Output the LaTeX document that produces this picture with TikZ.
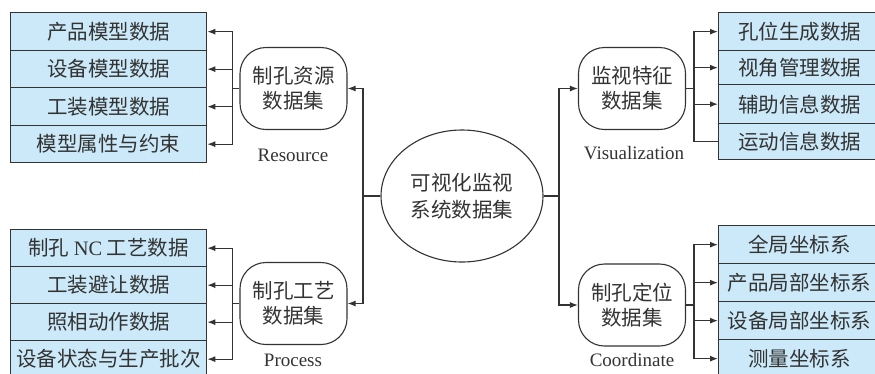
\documentclass[tikz,border=0pt]{standalone}
\usepackage{fontspec}
\setmainfont{Liberation Serif}
\newfontfamily\cjk{Noto Sans CJK SC}
\usetikzlibrary{arrows.meta,shapes.geometric}
\definecolor{boxfill}{HTML}{CBE9F8}
\definecolor{ink}{HTML}{333333}
\begin{document}
\begin{tikzpicture}[x=1pt,y=-1pt,
  cell/.style={draw=ink,fill=boxfill,line width=1.3pt,inner sep=0pt,
    font=\cjk\fontsize{20.5}{24}\selectfont,text=ink,anchor=north west},
  lcell/.style={cell,minimum width=196pt},
  rcell/.style={cell,minimum width=162pt},
  setbox/.style={draw=ink,line width=1.1pt,rounded corners=26pt,minimum width=107pt,
    minimum height=82pt,align=center,text=ink,font=\cjk\fontsize{20.5}{25}\selectfont},
  lab/.style={text=ink,font=\fontsize{19}{22}\selectfont},
  conn/.style={draw=ink,line width=1.2pt},
  arr/.style={conn,-{Latex[length=8pt,width=6pt]}}]
\useasboundingbox (0,0) rectangle (875,373);
\clip (0,0) rectangle (875,373);
% left upper stack
\node[lcell,minimum height=38pt] (a1) at (10,12) {产品模型数据};
\node[lcell,minimum height=37pt] (a2) at (10,50) {设备模型数据};
\node[lcell,minimum height=38pt] (a3) at (10,87) {工装模型数据};
\node[lcell,minimum height=37pt] (a4) at (10,125) {模型属性与约束};
% left lower stack
\node[lcell,minimum height=37pt] (b1) at (10,229) {制孔 {\rmfamily NC} 工艺数据};
\node[lcell,minimum height=37pt] (b2) at (10,266) {工装避让数据};
\node[lcell,minimum height=37pt] (b3) at (10,303) {照相动作数据};
\node[lcell,minimum height=37pt] (b4) at (10,340) {设备状态与生产批次};
% right upper stack
\node[rcell,minimum height=38pt] (c1) at (718,12) {孔位生成数据};
\node[rcell,minimum height=34pt] (c2) at (718,50) {视角管理数据};
\node[rcell,minimum height=39pt] (c3) at (718,84) {辅助信息数据};
\node[rcell,minimum height=36pt] (c4) at (718,123) {运动信息数据};
% right lower stack
\node[rcell,minimum height=38pt] (d1) at (718,225) {全局坐标系};
\node[rcell,minimum height=38pt] (d2) at (718,263) {产品局部坐标系};
\node[rcell,minimum height=38pt] (d3) at (718,301) {设备局部坐标系};
\node[rcell,minimum height=38pt] (d4) at (718,339) {测量坐标系};
% set boxes
\node[setbox] (res) at (293.5,88.5) {制孔资源\\数据集};
\node[setbox] (proc) at (293.5,303.5) {制孔工艺\\数据集};
\node[setbox] (vis) at (632,88.5) {监视特征\\数据集};
\node[setbox] (coord) at (632,305) {制孔定位\\数据集};
\node[lab] (lres) at (293,155) {Resource};
\node[lab] (lproc) at (293,360) {Process};
\node[lab] (lvis) at (634,153) {Visualization};
\node[lab] (lcoord) at (632,360) {Coordinate};
% center ellipse
\node[ellipse,draw=ink,line width=1.1pt,minimum width=162pt,minimum height=132pt,inner sep=0pt,
  align=center,text=ink,font=\cjk\fontsize{20.5}{27}\selectfont] (ell) at (462,196) {可视化监视\\系统数据集};
% trunks
\coordinate (tL) at (363,196);
\coordinate (tR) at (559,196);
\draw[conn] (ell.west) -- (tL);
\draw[conn] (ell.east) -- (tR);
\draw[arr] (tL) |- (res.east);
\draw[arr] (tL) |- (proc.east);
\draw[arr] (tR) |- (vis.west);
\draw[arr] (tR) |- (coord.west);
% fans
\coordinate (jA) at ([xshift=-7pt]res.west);
\coordinate (jB) at ([xshift=-7pt]proc.west);
\coordinate (jC) at ([xshift=8pt]vis.east);
\coordinate (jD) at ([xshift=8pt]coord.east);
\draw[conn] (res.west) -- (jA);
\draw[conn] (proc.west) -- (jB);
\draw[conn] (vis.east) -- (jC);
\draw[conn] (coord.east) -- (jD);
\foreach \n in {a1,a2,a3,a4} \draw[arr] (jA) |- (\n.east);
\foreach \n in {b1,b2,b3,b4} \draw[arr] (jB) |- (\n.east);
\foreach \n in {c1,c2,c3} \draw[arr] (jC) |- (\n.west);
\draw[conn] (jC) |- (c4.west);
\foreach \n in {d1,d2,d3,d4} \draw[arr] (jD) |- (\n.west);
\end{tikzpicture}
\end{document}
